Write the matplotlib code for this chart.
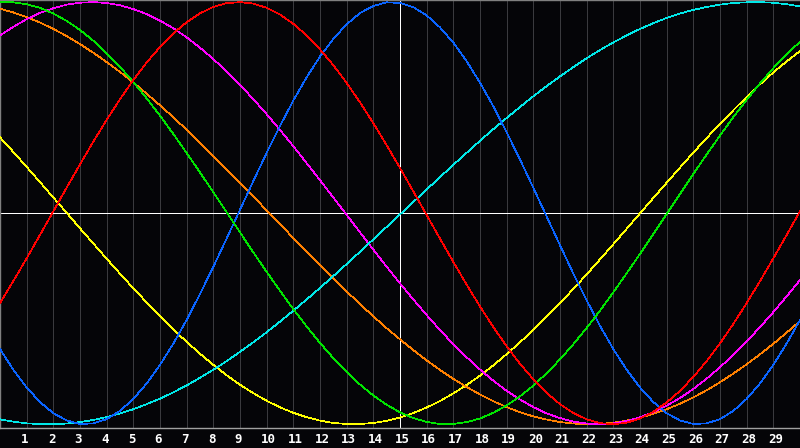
import matplotlib
matplotlib.use("Agg")
import matplotlib.pyplot as plt
import matplotlib.transforms as mtransforms

# readings every half day, 0 = left edge, 30 = right edge
days = [i / 2 for i in range(61)]
tick_days = list(range(1, 30))
today = 15

# cycle values, -1 .. 1
red = [-0.426, -0.322, -0.214, -0.103, 0.009, 0.121, 0.231, 0.339, 0.442, 0.540,
       0.631, 0.714, 0.787, 0.852, 0.905, 0.947, 0.977, 0.995, 1.000, 0.993,
       0.973, 0.941, 0.897, 0.842, 0.776, 0.701, 0.617, 0.525, 0.426, 0.322,
       0.214, 0.103, -0.009, -0.121, -0.231, -0.339, -0.442, -0.540, -0.631, -0.714,
       -0.787, -0.852, -0.905, -0.947, -0.977, -0.995, -1.000, -0.993, -0.973, -0.941,
       -0.897, -0.842, -0.776, -0.701, -0.617, -0.525, -0.426, -0.322, -0.214, -0.103,
       0.009]
green = [0.999, 0.999, 0.990, 0.973, 0.946, 0.911, 0.868, 0.817, 0.758, 0.693,
         0.621, 0.544, 0.462, 0.375, 0.285, 0.193, 0.099, 0.004, -0.091, -0.186,
         -0.278, -0.368, -0.455, -0.537, -0.615, -0.687, -0.753, -0.812, -0.864, -0.908,
         -0.944, -0.971, -0.989, -0.999, -0.999, -0.990, -0.973, -0.946, -0.911, -0.868,
         -0.817, -0.758, -0.693, -0.621, -0.544, -0.462, -0.375, -0.285, -0.193, -0.099,
         -0.004, 0.091, 0.186, 0.278, 0.368, 0.455, 0.537, 0.615, 0.687, 0.753,
         0.812]
blue = [-0.644, -0.742, -0.826, -0.895, -0.948, -0.982, -0.999, -0.996, -0.976, -0.937,
        -0.880, -0.807, -0.719, -0.618, -0.506, -0.383, -0.254, -0.120, 0.016, 0.152,
        0.286, 0.413, 0.534, 0.644, 0.742, 0.826, 0.895, 0.948, 0.982, 0.999,
        0.996, 0.976, 0.937, 0.880, 0.808, 0.720, 0.618, 0.506, 0.383, 0.254,
        0.120, -0.016, -0.152, -0.286, -0.413, -0.534, -0.644, -0.742, -0.826, -0.895,
        -0.948, -0.982, -0.999, -0.996, -0.976, -0.937, -0.880, -0.807, -0.719, -0.618,
        -0.506]
cyan = [-0.977, -0.988, -0.996, -0.999, -1.000, -0.997, -0.990, -0.980, -0.966, -0.949,
        -0.929, -0.905, -0.879, -0.849, -0.816, -0.780, -0.742, -0.701, -0.657, -0.612,
        -0.564, -0.514, -0.462, -0.409, -0.354, -0.298, -0.241, -0.183, -0.124, -0.065,
        -0.006, 0.053, 0.112, 0.171, 0.229, 0.286, 0.343, 0.398, 0.451, 0.503,
        0.554, 0.602, 0.648, 0.692, 0.734, 0.773, 0.809, 0.842, 0.873, 0.900,
        0.925, 0.946, 0.963, 0.977, 0.988, 0.996, 0.999, 1.000, 0.997, 0.990,
        0.980]
magenta = [0.842, 0.883, 0.919, 0.949, 0.971, 0.988, 0.997, 1.000, 0.996, 0.985,
           0.967, 0.943, 0.912, 0.876, 0.833, 0.784, 0.730, 0.671, 0.608, 0.540,
           0.469, 0.394, 0.317, 0.237, 0.156, 0.074, -0.008, -0.091, -0.173, -0.254,
           -0.333, -0.409, -0.483, -0.554, -0.621, -0.683, -0.741, -0.794, -0.842, -0.883,
           -0.919, -0.949, -0.971, -0.988, -0.997, -1.000, -0.996, -0.985, -0.967, -0.943,
           -0.912, -0.876, -0.833, -0.784, -0.730, -0.671, -0.608, -0.540, -0.469, -0.394,
           -0.317]
orange = [0.969, 0.951, 0.929, 0.903, 0.873, 0.839, 0.801, 0.760, 0.716, 0.669,
          0.619, 0.566, 0.511, 0.454, 0.395, 0.334, 0.271, 0.208, 0.144, 0.079,
          0.013, -0.052, -0.118, -0.182, -0.246, -0.309, -0.371, -0.431, -0.489, -0.545,
          -0.598, -0.649, -0.698, -0.743, -0.785, -0.824, -0.859, -0.891, -0.919, -0.943,
          -0.963, -0.978, -0.990, -0.997, -1.000, -0.999, -0.993, -0.983, -0.969, -0.951,
          -0.929, -0.903, -0.873, -0.839, -0.801, -0.760, -0.716, -0.669, -0.619, -0.566,
          -0.511]
yellow = [0.359, 0.290, 0.219, 0.147, 0.074, 0.002, -0.072, -0.144, -0.216, -0.287,
          -0.356, -0.423, -0.488, -0.551, -0.610, -0.666, -0.719, -0.768, -0.813, -0.853,
          -0.889, -0.920, -0.946, -0.967, -0.983, -0.994, -0.999, -0.999, -0.994, -0.984,
          -0.968, -0.947, -0.921, -0.890, -0.854, -0.814, -0.770, -0.721, -0.668, -0.612,
          -0.553, -0.491, -0.426, -0.359, -0.290, -0.219, -0.147, -0.074, -0.001, 0.072,
          0.144, 0.216, 0.287, 0.356, 0.423, 0.488, 0.551, 0.610, 0.667, 0.719,
          0.768]

series = [
    (yellow, "#ffff00"),
    (orange, "#ff8000"),
    (magenta, "#ff00ff"),
    (cyan, "#00e8e8"),
    (blue, "#0a64ff"),
    (green, "#00e400"),
    (red, "#ff0000"),
]

bg = "#050508"
fig = plt.figure(figsize=(8, 4.48), dpi=100, facecolor=bg)
ax = fig.add_axes([0, 20 / 448, 1, 428 / 448], facecolor=bg)

# day grid
for d in tick_days:
    ax.axvline(d, color="#3a3a3e", lw=0.5, antialiased=False, zorder=1)
ax.axhline(0, color="white", lw=0.5, antialiased=False, zorder=2)
ax.axvline(today, color="white", lw=0.5, antialiased=False, zorder=2)

for vals, col in series:
    ax.plot(days, vals, color=col, lw=0.5, antialiased=False, zorder=3)

ax.set_xlim(0, 30)
ax.set_ylim(-1.018, 1.01)

ax.spines["right"].set_visible(False)
ax.spines["left"].set_color("#808080")
ax.spines["top"].set_color("#808080")
ax.spines["bottom"].set_color("#a0a0a0")
for s in ax.spines.values():
    s.set_linewidth(1.0)

ax.set_yticks([])
ax.set_xticks(tick_days)
ax.set_xticklabels([str(d) for d in tick_days], fontsize=9, fontweight="bold",
                   family="DejaVu Sans Mono", color="white")
ax.tick_params(axis="x", length=0, pad=3.5)
shift = mtransforms.ScaledTranslation(-5.5 / 100, 0, fig.dpi_scale_trans)
for lab in ax.get_xticklabels():
    lab.set_ha("left")
    lab.set_transform(lab.get_transform() + shift)

fig.savefig("out.png", dpi=100, facecolor=bg)
